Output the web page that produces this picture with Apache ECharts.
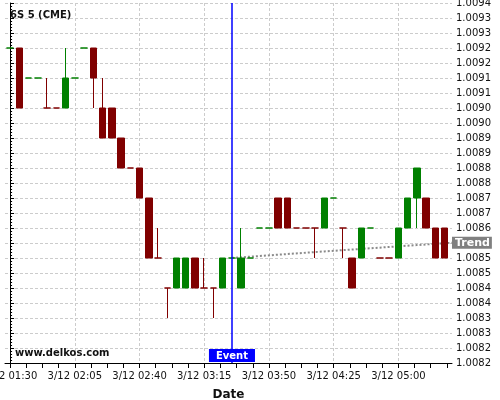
<!DOCTYPE html>
<html><head><meta charset="utf-8">
<script src="https://cdn.jsdelivr.net/npm/echarts@6/dist/echarts.min.js"></script>
<style>html,body{margin:0;padding:0;background:#fff}#c{width:500px;height:400px}</style>
</head><body><div id="c"></div>
<script>
const candleTimes = ['01:30','01:35','01:40','01:45','01:50','01:55','02:00','02:05','02:10','02:15','02:20','02:25',
  '02:30','02:35','02:40','02:45','02:50','02:55','03:00','03:05','03:10','03:15','03:20','03:25',
  '03:30','03:35','03:40','03:45','03:50','03:55','04:00','04:05','04:10','04:15','04:20','04:25',
  '04:30','04:35','04:40','04:45','04:50','04:55','05:00','05:05','05:10','05:15','05:20','05:25'];
const opens  = [1.0092,1.0092,1.0091,1.0091,1.0090,1.0090,1.0090,1.0091,1.0092,1.0092,1.0090,1.0090,
  1.0089,1.0088,1.0088,1.0087,1.0085,1.0084,1.0084,1.0084,1.0085,1.0084,1.0084,1.0084,
  1.0085,1.0084,1.0085,1.0086,1.0086,1.0087,1.0087,1.0086,1.0086,1.0086,1.0086,1.0087,
  1.0086,1.0085,1.0085,1.0086,1.0085,1.0085,1.0085,1.0086,1.0087,1.0087,1.0086,1.0086];
const closes = [1.0092,1.0090,1.0091,1.0091,1.0090,1.0090,1.0091,1.0091,1.0092,1.0091,1.0089,1.0089,
  1.0088,1.0088,1.0087,1.0085,1.0085,1.0084,1.0085,1.0085,1.0084,1.0084,1.0084,1.0085,
  1.0085,1.0085,1.0085,1.0086,1.0086,1.0086,1.0086,1.0086,1.0086,1.0086,1.0087,1.0087,
  1.0086,1.0084,1.0086,1.0086,1.0085,1.0085,1.0086,1.0087,1.0088,1.0086,1.0085,1.0085];
const lows   = [1.0092,1.0090,1.0091,1.0091,1.0090,1.0090,1.0090,1.0091,1.0092,1.0090,1.0089,1.0089,
  1.0088,1.0088,1.0087,1.0085,1.0085,1.0083,1.0084,1.0084,1.0084,1.0084,1.0083,1.0084,
  1.0085,1.0084,1.0085,1.0086,1.0086,1.0086,1.0086,1.0086,1.0086,1.0085,1.0086,1.0087,
  1.0085,1.0084,1.0085,1.0086,1.0085,1.0085,1.0085,1.0086,1.0086,1.0086,1.0085,1.0085];
const highs  = [1.0092,1.0092,1.0091,1.0091,1.0091,1.0090,1.0092,1.0091,1.0092,1.0092,1.0091,1.0090,
  1.0089,1.0088,1.0088,1.0087,1.0086,1.0084,1.0085,1.0085,1.0085,1.0085,1.0084,1.0085,
  1.0085,1.0086,1.0085,1.0086,1.0086,1.0087,1.0087,1.0086,1.0086,1.0086,1.0087,1.0087,
  1.0086,1.0085,1.0086,1.0086,1.0085,1.0085,1.0086,1.0087,1.0088,1.0087,1.0086,1.0086];
const candleColors = ['g','r','g','g','r','r','g','g','g','r','r','r',
  'r','r','r','r','r','r','g','g','r','r','r','g',
  'g','g','g','g','g','r','r','r','r','r','g','g',
  'r','r','g','g','r','r','g','g','g','r','r','r'];
const xTickLabels = ['3/12 01:30','3/12 02:05','3/12 02:40','3/12 03:15','3/12 03:50','3/12 04:25','3/12 05:00'];
const eventTime = '03:30';
const trendTimes  = ['03:30','04:20','05:10','05:29'];
const trendValues = [1.00850, 1.008522, 1.008543, 1.008551];
const axisStart = '01:27:15', axisEnd = '05:29';

const UP = '#008000', DOWN = '#800000';
const FONT = 'DejaVu Sans';
const toQ = t => { const p = t.split(':').map(Number); return (p[0]*60 + p[1] + (p[2]||0)/60 - 90) * 4; };
const qMin = Math.round(toQ(axisStart)), qMax = Math.round(toQ(axisEnd));
const cats = []; for (let q = qMin; q <= qMax; q++) cats.push(String(q));

const candleData = candleTimes.map((t, i) => {
  const col = candleColors[i] === 'g' ? UP : DOWN;
  return { value: [toQ(t), opens[i], closes[i], lows[i], highs[i]],
    itemStyle: { color: col, color0: col, borderColor: col, borderColor0: col, borderColorDoji: col } };
});
const trendData = trendTimes.map((t, i) => [toQ(t), trendValues[i]]);

const chart = echarts.init(document.getElementById('c'), null, { renderer: 'canvas' });
chart.setOption({
  animation: false,
  backgroundColor: '#fff',
  textStyle: { fontFamily: FONT },
  title: [
    { text: '6S 5 (CME)', left: 10, top: 10, padding: 0,
      textStyle: { fontFamily: FONT, fontSize: 10, fontWeight: 'bold', color: '#111' } },
    { text: 'www.delkos.com', left: 15, top: 348, padding: 0,
      textStyle: { fontFamily: FONT, fontSize: 10, fontWeight: 'bold', color: '#111' } }
  ],
  grid: { left: 5, right: 48, top: 3, bottom: 37, containLabel: false, outerBoundsMode: 'none' },
  xAxis: [
    { type: 'category', data: cats, boundaryGap: false,
      name: 'Date', nameLocation: 'middle', nameGap: 26,
      nameTextStyle: { fontFamily: FONT, fontSize: 12, fontWeight: 'bold', color: '#111' },
      axisLine: { show: true, lineStyle: { color: '#000', width: 1 } },
      axisTick: { show: true, length: 5, interval: (i) => (i + qMin) % 35 === 0, lineStyle: { color: '#000' } },
      axisLabel: { show: true, margin: 8, fontFamily: FONT, fontSize: 10, color: '#111',
        interval: (i) => (i + qMin) % 140 === 0 && (i + qMin) >= 0,
        formatter: (v) => xTickLabels[Math.round(Number(v) / 140)] || '' },
      splitLine: { show: true, interval: (i) => (i + qMin) % 140 === 0 && (i + qMin) >= 0,
        lineStyle: { color: '#cccccc', type: [3, 2], width: 1 } }
    },
    { type: 'value', min: qMin, max: qMax, show: false, splitLine: { show: false } }
  ],
  yAxis: {
    type: 'value', position: 'right', min: 1.00815, max: 1.00935, interval: 0.00005, scale: true,
    axisLine: { show: true, lineStyle: { color: '#000', width: 1 } },
    axisTick: { show: true, length: 4, lineStyle: { color: '#000' } },
    minorTick: { show: true, splitNumber: 5, length: 2, lineStyle: { color: '#000' } },
    axisLabel: { margin: 4, fontFamily: FONT, fontSize: 10, color: '#111',
      formatter: (v) => (Math.round(v * 1e4 + 1e-6) / 1e4).toFixed(4) },
    splitLine: { show: true, lineStyle: { color: '#cccccc', type: [3, 2], width: 1 } }
  },
  series: [
    { type: 'line', xAxisIndex: 1, yAxisIndex: 0, data: trendData, showSymbol: false, z: 1,
      lineStyle: { color: '#8a8a8a', width: 2, type: [2, 2] },
      endLabel: { show: true, formatter: 'Trend', distance: 0, fontFamily: FONT, fontSize: 11,
        fontWeight: 'bold', color: '#fff', backgroundColor: '#808080', padding: [1, 2, 0, 3] }
    },
    { type: 'candlestick', xAxisIndex: 1, yAxisIndex: 0, z: 2, large: false,
      encode: { x: 0, y: [1, 2, 3, 4] },
      barWidth: 7, data: candleData,
      itemStyle: { color: UP, color0: DOWN, borderColor: UP, borderColor0: DOWN, borderWidth: 1 },
      markLine: { silent: true, symbol: ['none', 'none'], animation: false,
        lineStyle: { color: '#0000ff', width: 1.5, type: 'solid' },
        label: { show: true, position: 'start', distance: -14, formatter: 'Event',
          fontFamily: FONT, fontSize: 10, fontWeight: 'bold', color: '#fff',
          backgroundColor: '#0000ff', padding: [2, 7, 1, 7] },
        data: [{ xAxis: toQ(eventTime) }]
      }
    }
  ]
});
</script></body></html>
